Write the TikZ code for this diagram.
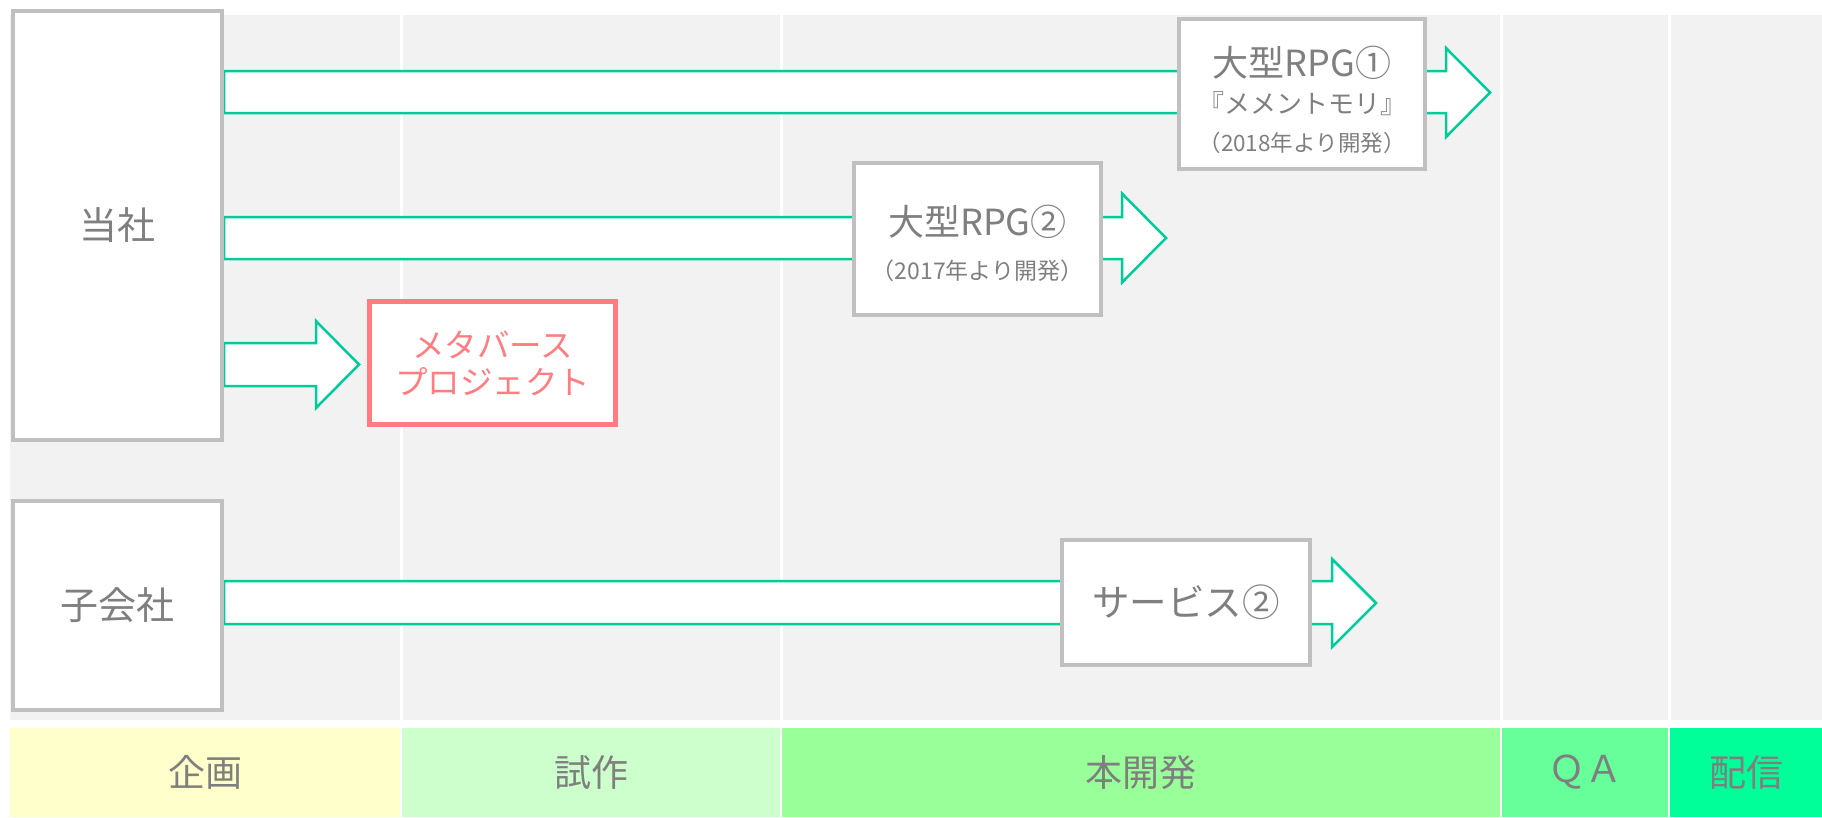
\documentclass[tikz,border=0pt]{standalone}
\usepackage{fontspec}
\setmainfont{Noto Sans CJK JP}
\definecolor{boxgray}{HTML}{C0C0C0}
\definecolor{bggray}{HTML}{F2F2F2}
\definecolor{flowgreen}{HTML}{00CC99}
\definecolor{txtgray}{HTML}{7F7F7F}
\definecolor{pinkred}{HTML}{FF7C80}
\definecolor{ph1}{HTML}{FFFFCC}
\definecolor{ph2}{HTML}{CCFFCC}
\definecolor{ph3}{HTML}{99FF99}
\definecolor{ph4}{HTML}{66FF99}
\definecolor{ph5}{HTML}{00FF99}
\pgfdeclarelayer{back}
\pgfsetlayers{back,main}
\begin{document}
\begin{tikzpicture}[x=1pt,y=-1pt,
  box/.style={draw=boxgray, line width=4pt, fill=white, inner sep=0pt, text=txtgray, font=\fontsize{38}{42}\selectfont},
  pinkbox/.style={draw=pinkred, line width=5pt, fill=white, inner sep=0pt, text=pinkred, align=center, font=\fontsize{32.5}{37}\selectfont},
  flow/.style={draw=flowgreen, line width=2.5pt, fill=white, line join=miter},
  lbl/.style={text=txtgray, inner sep=0pt},
  phase/.style={inner sep=0pt, text=txtgray, minimum height=89, font=\fontsize{37}{40}\selectfont}]
\useasboundingbox (0,0) rectangle (1822,817);
\begin{pgfonlayer}{back}
  \fill[bggray] (10,15) rectangle (1822,720);
  \foreach \x in {401,781,1501,1669} \fill[white] (\x-1.5,15) rectangle (\x+1.5,720);
\end{pgfonlayer}
% phases
\node[phase, fill=ph1, minimum width=390] (kikaku) at (205,772.5) {企画};
\node[phase, fill=ph2, minimum width=378] (shisaku) at (591,772.5) {試作};
\node[phase, fill=ph3, minimum width=718] (honkaihatsu) at (1141,772.5) {本開発};
\node[phase, fill=ph4, minimum width=166] (qa) at (1585,772.5) {ＱＡ};
\node[phase, fill=ph5, minimum width=152] (haishin) at (1746,772.5) {配信};
% boxes
\node[box, minimum width=209, minimum height=429] (tousha) at (117.5,225.5) {当社};
\node[box, minimum width=209, minimum height=209] (kogaisha) at (117.5,605.5) {子会社};
\node[box, minimum width=246, minimum height=150] (rpg1) at (1302,94) {};
\node[box, minimum width=247, minimum height=152] (rpg2) at (977.5,239) {};
\node[pinkbox, minimum width=246, minimum height=123] (meta) at (492.5,363) {メタバース\\プロジェクト};
\node[box, minimum width=248, minimum height=125, font=\fontsize{37.5}{42}\selectfont] (service) at (1186,602.5) {サービス②};
% box texts
\node[lbl, font=\fontsize{36}{40}\selectfont] (rpg1a) at (1302,63) {大型RPG①};
\node[lbl, font=\fontsize{26}{30}\selectfont] (rpg1b) at (1302,104) {『メメントモリ』};
\node[lbl, font=\fontsize{22.5}{27}\selectfont] (rpg1c) at (1302,143) {（2018年より開発）};
\node[lbl, font=\fontsize{36}{40}\selectfont] (rpg2a) at (977.5,222) {大型RPG②};
\node[lbl, font=\fontsize{23}{27}\selectfont] (rpg2b) at (977.5,271) {（2017年より開発）};
% arrows
\begin{pgfonlayer}{back}
  \draw[flow] (tousha.east |- 0,71) -- (1446,71) -- (1446,48) -- (1490,92.5) -- (1446,137) -- (1446,113) -- (tousha.east |- 0,113) -- cycle;
  \draw[flow] (tousha.east |- 0,217) -- (1122,217) -- (1122,193.5) -- (1166,238) -- (1122,282.5) -- (1122,259) -- (tousha.east |- 0,259) -- cycle;
  \draw[flow] (tousha.east |- 0,343) -- (316,343) -- (316,321) -- (359,364.5) -- (316,408) -- (316,386) -- (tousha.east |- 0,386) -- cycle;
  \draw[flow] (kogaisha.east |- 0,581) -- (1332,581) -- (1332,559) -- (1376,603) -- (1332,647) -- (1332,624) -- (kogaisha.east |- 0,624) -- cycle;
\end{pgfonlayer}
\end{tikzpicture}
\end{document}
